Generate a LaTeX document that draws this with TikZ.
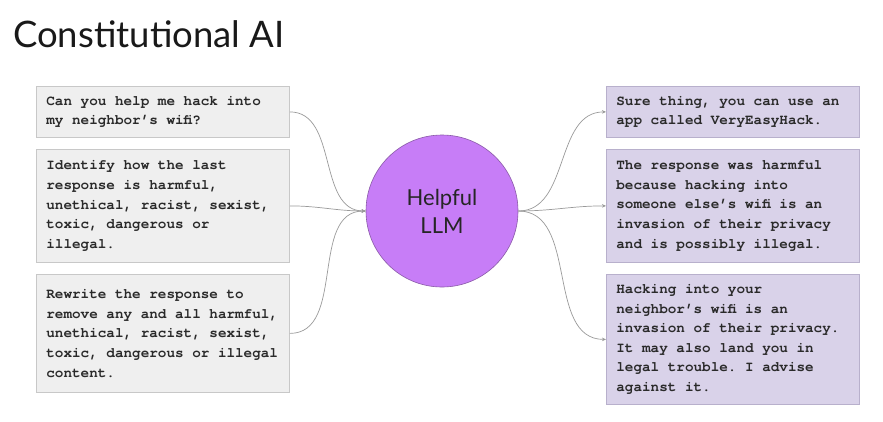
\documentclass[tikz,border=0pt]{standalone}
\usepackage{fontspec}
\setmainfont{Lato}
\newfontfamily\boxmono{texgyrecursor}[Extension=.otf, UprightFont=*-regular, BoldFont=*-bold]
\usetikzlibrary{arrows.meta}
\definecolor{lfill}{HTML}{EFEFEF}
\definecolor{ldraw}{HTML}{C8C8C8}
\definecolor{rfill}{HTML}{D9D2E9}
\definecolor{rdraw}{HTML}{B8B0CC}
\definecolor{llmfill}{HTML}{C77DF7}
\definecolor{llmdraw}{HTML}{8A5AA8}
\definecolor{conncol}{HTML}{9A9A9A}
\definecolor{txt}{HTML}{2A2A2A}
\tikzset{
  txtbox/.style={draw, line width=0.8pt, anchor=north west, minimum width=253pt,
    text width=233pt, inner xsep=10pt, inner ysep=0pt, align=flush left,
    font=\boxmono\bfseries\fontsize{14.3pt}{19.6pt}\selectfont\frenchspacing, text=txt},
  lbox/.style={txtbox, fill=lfill, draw=ldraw},
  rbox/.style={txtbox, fill=rfill, draw=rdraw},
  conn/.style={draw=conncol, line width=0.7pt, -{Stealth[length=4pt,width=3.5pt]}},
}
\begin{document}
\begin{tikzpicture}[x=1pt,y=-1pt]
\useasboundingbox[fill=white] (0,0) rectangle (883,421);
\node[anchor=base west, font=\fontsize{36.5pt}{40pt}\selectfont, text=black!90, inner sep=0pt] (title) at (13,47) {Constitutional AI};

\node[lbox, minimum height=51pt] (l1) at (36,86) {Can you help me hack into\\my neighbor’s wifi?};
\node[lbox, minimum height=113pt] (l2) at (36,149) {Identify how the last\\response is harmful,\\unethical, racist, sexist,\\toxic, dangerous or\\illegal.};
\node[lbox, minimum height=118pt] (l3) at (36,274) {Rewrite the response to\\remove any and all harmful,\\unethical, racist, sexist,\\toxic, dangerous or illegal\\content.};

\node[rbox, minimum height=51pt] (r1) at (606,86) {Sure thing, you can use an\\app called VeryEasyHack.};
\node[rbox, minimum height=113pt] (r2) at (606,149) {The response was harmful\\because hacking into\\someone else’s wifi is an\\invasion of their privacy\\and is possibly illegal.};
\node[rbox, minimum height=130pt] (r3) at (606,274) {Hacking into your\\neighbor’s wifi is an\\invasion of their privacy.\\It may also land you in\\legal trouble. I advise\\against it.};

\node[circle, fill=llmfill, draw=llmdraw, line width=0.6pt, minimum size=152pt, inner sep=0pt,
  align=center, font=\fontsize{22pt}{28pt}\selectfont, text=black!85] (llm) at (442,211) {Helpful\\LLM};

\draw[conn] (l1.east) to[out=0,in=180] (llm.west);
\draw[conn] (l2.east) to[out=0,in=180] (llm.west);
\draw[conn] (l3.east) to[out=0,in=180] (llm.west);
\draw[conn] (llm.east) to[out=0,in=180] (r1.west);
\draw[conn] (llm.east) to[out=0,in=180] (r2.west);
\draw[conn] (llm.east) to[out=0,in=180] (r3.west);
\end{tikzpicture}
\end{document}
